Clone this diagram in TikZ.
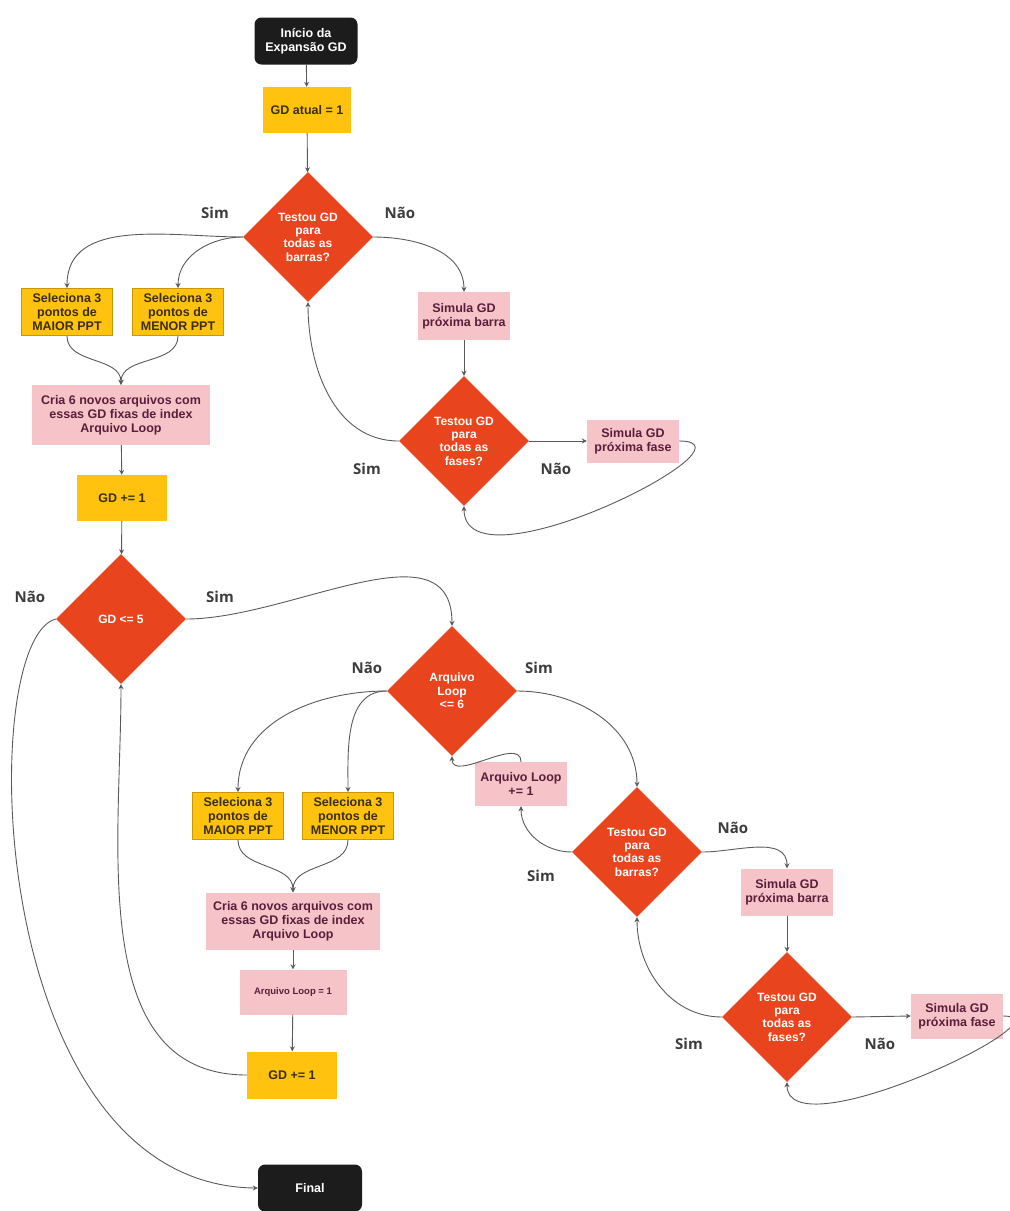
\documentclass[tikz,border=0pt]{standalone}
\usepackage{fontspec}
\setmainfont{Liberation Sans}
\newfontfamily\lblfont{Open Sans}
\usetikzlibrary{shapes.geometric,arrows.meta}

\definecolor{termblack}{HTML}{1C1C1C}
\definecolor{gdyellow}{HTML}{FFC20E}
\definecolor{gdedge}{HTML}{C99700}
\definecolor{gdpink}{HTML}{F6C4C8}
\definecolor{gdred}{HTML}{E8451F}
\definecolor{pinktext}{HTML}{5A1E3C}
\definecolor{yeltext}{HTML}{3A2E10}
\definecolor{linegray}{HTML}{5A5A5A}
\definecolor{lbltext}{HTML}{3C3C3C}

\tikzset{
  term/.style={fill=termblack, text=white, rounded corners=7pt, minimum width=103pt,
    minimum height=47pt, align=center, font=\bfseries\fontsize{12.5}{14}\selectfont},
  ybox/.style={fill=gdyellow, text=yeltext, minimum width=90pt, minimum height=46pt,
    align=center, font=\bfseries\fontsize{12.5}{14}\selectfont},
  selbox/.style={ybox, draw=gdedge, line width=1pt, minimum width=91pt, minimum height=47pt},
  pbox/.style={fill=gdpink, text=pinktext, minimum width=92pt, minimum height=46pt,
    align=center, font=\bfseries\fontsize{12.5}{14}\selectfont},
  decis/.style={diamond, aspect=1, fill=gdred, text=white, minimum width=130pt,
    minimum height=130pt, inner sep=0pt, align=center,
    font=\bfseries\fontsize{12}{13.4}\selectfont},
  lbl/.style={text=lbltext, font=\lblfont\bfseries\fontsize{15}{18}\selectfont},
  conn/.style={draw, linegray, line width=0.9pt},
}

\begin{document}
\begin{tikzpicture}[->, >={Stealth[length=5pt,width=5pt]}, x=1pt, y=1pt,
  every edge/.style={conn}]
   \useasboundingbox (0,0) rectangle (1010,-1211);

   \node[term] (ini) at (306,-41) {Início da\\Expansão GD};
   \node[ybox, minimum width=88pt] (gd1) at (307,-110) {GD atual = 1};
   \node[decis] (tb1) at (308,-237) {Testou GD\\para\\todas as\\barras?};
   \node[selbox] (maior1) at (67,-312) {Seleciona 3\\pontos de\\MAIOR PPT};
   \node[selbox] (menor1) at (178,-312) {Seleciona 3\\pontos de\\MENOR PPT};
   \node[pbox, minimum width=178pt, minimum height=60pt] (cria1) at (121,-415)
     {Cria 6 novos arquivos com\\essas GD fixas de index\\Arquivo Loop};
   \node[ybox] (gdp1) at (122,-498) {GD += 1};
   \node[decis] (gd5) at (121,-619) {GD <= 5};

   \node[pbox, minimum height=48pt] (sb1) at (464,-316) {Simula GD\\próxima barra};
   \node[decis] (tf1) at (464,-441) {Testou GD\\para\\todas as\\fases?};
   \node[pbox, minimum height=43pt] (sf1) at (633,-441) {Simula GD\\próxima fase};

   \node[decis] (al) at (452,-691) {Arquivo\\Loop\\<= 6};
   \node[pbox, minimum height=44pt] (alp) at (521,-784) {Arquivo Loop\\+= 1};
   \node[selbox] (maior2) at (238,-816) {Seleciona 3\\pontos de\\MAIOR PPT};
   \node[selbox] (menor2) at (348,-816) {Seleciona 3\\pontos de\\MENOR PPT};
   \node[pbox, minimum width=174pt, minimum height=57pt] (cria2) at (293,-921)
     {Cria 6 novos arquivos com\\essas GD fixas de index\\Arquivo Loop};
   \node[pbox, minimum width=107pt, minimum height=45pt,
     font=\bfseries\fontsize{9.5}{11}\selectfont] (alr) at (293,-992) {Arquivo Loop = 1};
   \node[ybox, minimum height=47pt] (gdp2) at (292,-1075) {GD += 1};
   \node[term, minimum width=104pt] (fim) at (310,-1188) {Final};

   \node[decis] (tb2) at (637,-852) {Testou GD\\para\\todas as\\barras?};
   \node[pbox, minimum height=47pt] (sb2) at (787,-892) {Simula GD\\próxima barra};
   \node[decis] (tf2) at (787,-1017) {Testou GD\\para\\todas as\\fases?};
   \node[pbox, minimum height=45pt] (sf2) at (957,-1016) {Simula GD\\próxima fase};

   \node[lbl] (l1) at (215,-213) {Sim};
   \node[lbl] (l2) at (400,-213) {Não};
   \node[lbl] (l3) at (367,-469) {Sim};
   \node[lbl] (l4) at (556,-469) {Não};
   \node[lbl] (l5) at (30,-597) {Não};
   \node[lbl] (l6) at (220,-597) {Sim};
   \node[lbl] (l7) at (367,-668) {Não};
   \node[lbl] (l8) at (539,-668) {Sim};
   \node[lbl] (l9) at (733,-828) {Não};
   \node[lbl] (l10) at (541,-876) {Sim};
   \node[lbl] (l11) at (689,-1044) {Sim};
   \node[lbl] (l12) at (880,-1044) {Não};

   \path (ini) edge (gd1);
   \path (gd1) edge (tb1);
   \path (tb1.west) edge[out=180,in=90] (maior1.north);
   \path (tb1.west) edge[out=180,in=90] (menor1.north);
   \path (tb1.east) edge[out=0,in=90] (sb1.north);
   \path (sb1) edge (tf1);
   \path (tf1.west) edge[out=180,in=-90] (tb1.south);
   \path (tf1.east) edge (sf1.west);
   \path (sf1.east) edge[out=0,in=-90] (tf1.south);
   \path (maior1.south) edge[out=-90,in=90] (cria1.north);
   \path (menor1.south) edge[out=-90,in=90] (cria1.north);
   \path (cria1) edge (gdp1);
   \path (gdp1) edge (gd5);
   \path (gd5.east) edge[out=0,in=90] (al.north);
   \draw[conn] (gd5.west) .. controls (-25,-640) and (-15,-1185) .. (fim.west);

   \path (al.west) edge[out=180,in=90] (maior2.north);
   \path (al.west) edge[out=180,in=90] (menor2.north);
   \path (al.east) edge[out=0,in=90] (tb2.north);
   \path (tb2.west) edge[out=180,in=-90] (alp.south);
   \path (alp.north) edge[out=90,in=-90] (al.south);
   \path (tb2.east) edge[out=0,in=90] (sb2.north);
   \path (sb2) edge (tf2);
   \path (tf2.west) edge[out=180,in=-90] (tb2.south);
   \path (tf2.east) edge (sf2.west);
   \path (sf2.east) edge[out=0,in=-90,looseness=.8] (tf2.south);
   \path (maior2.south) edge[out=-90,in=90] (cria2.north);
   \path (menor2.south) edge[out=-90,in=90] (cria2.north);
   \path (cria2) edge (alr);
   \path (alr) edge (gdp2);
   \path (gdp2.west) edge[out=180,in=-90] (gd5.south);

\end{tikzpicture}
\end{document}
